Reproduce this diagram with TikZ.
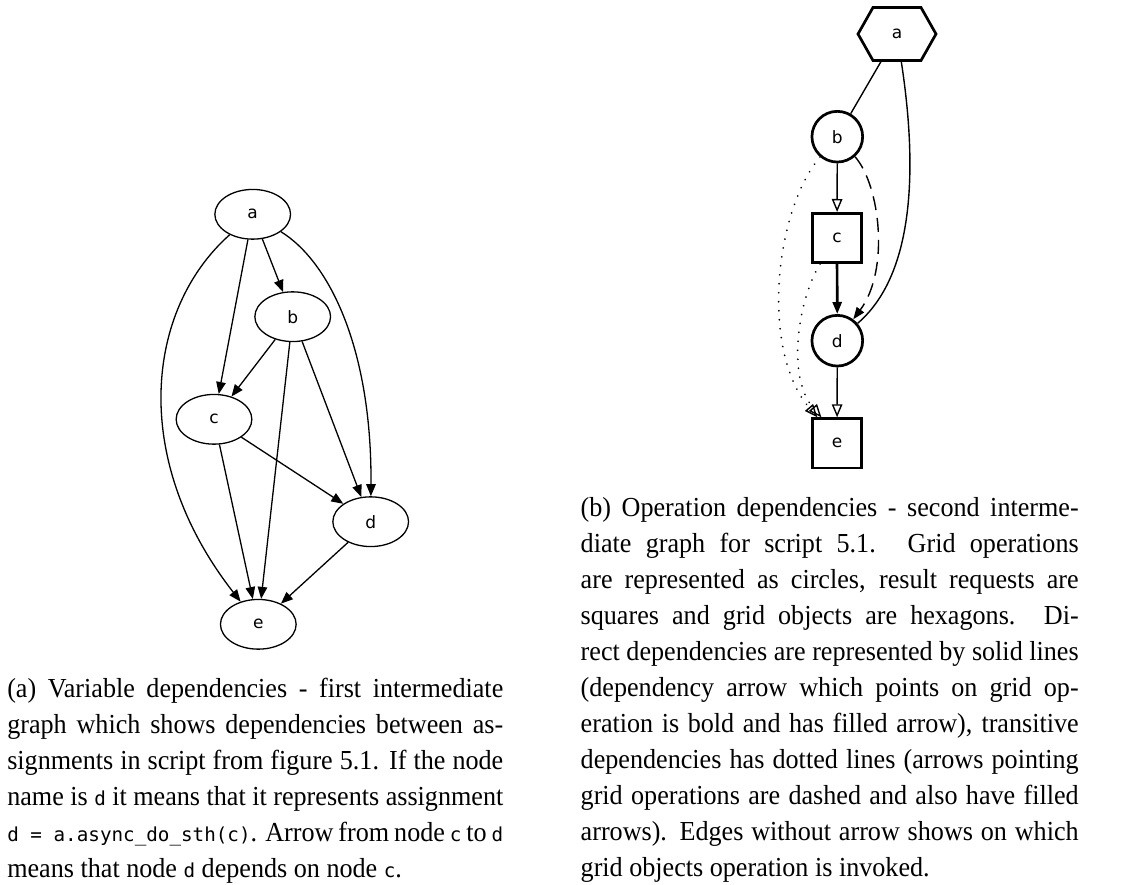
\documentclass[tikz,border=0pt]{standalone}
\usepackage{fontspec}
\setmainfont[FakeStretch=0.95]{Liberation Serif}
\setmonofont[Scale=0.70]{DejaVu Sans Mono}
\newfontfamily\graphfont{DejaVu Sans}
\usetikzlibrary{arrows.meta,calc,shapes.geometric}

% one justified caption line of a given width (natural, stretchable spaces)
\newcommand{\fullline}[2]{\makebox[#1][s]{\spaceskip=0pt\xspaceskip=0pt #2}}

\tikzset{
  labelfont/.style={font=\graphfont\fontsize{17}{20}\selectfont},
  var/.style={ellipse, draw, line width=1.3pt, minimum width=75.7pt,
              minimum height=49.7pt, inner sep=0pt, labelfont},
  dep/.style={line width=1.3pt, -{Triangle[length=12pt,width=9.5pt]}},
  gop/.style={circle, draw, line width=2.7pt, minimum size=50.7pt,
              inner sep=0pt, labelfont},
  greq/.style={rectangle, draw, line width=2.7pt, minimum size=49.3pt,
               inner sep=0pt, labelfont},
  gobj/.style={rectangle, minimum width=75.3pt, minimum height=50.3pt,
               inner sep=0pt, outer sep=1.35pt, labelfont},
  oplink/.style={line width=1.4pt},
  openhead/.style={-{Triangle[open,length=13pt,width=10.5pt,line width=1.4pt]}},
  fillhead/.style={-{Triangle[length=12pt,width=9pt]}},
  transdep/.style={line width=1.9pt, line cap=round, dash pattern=on 0.01pt off 9pt, openhead},
  captxt/.style={inner sep=0pt, outer sep=0pt, align=left,
                 font=\fontsize{27.5}{36}\selectfont},
}

\begin{document}
\begin{tikzpicture}[x=1pt,y=-1pt]
\useasboundingbox (0,0) rectangle (1146,885);

% ---------- (a) variable dependencies ----------
\node[var] (a) at (252.7,214.3) {a};
\node[var] (b) at (292.7,316.7) {b};
\node[var] (c) at (214.0,419.3) {c};
\node[var] (d) at (370.7,521.7) {d};
\node[var] (e) at (258.3,624.3) {e};

\draw[dep] (a) -- (b);
\draw[dep] (a) -- (c);
\draw[dep] (a) .. controls (330,262) and (372,350) .. (d);
\draw[dep] (a) .. controls (145,310) and (130,460) .. (e);
\draw[dep] (b) -- (c);
\draw[dep] (b) -- (d);
\draw[dep] (b) -- (e);
\draw[dep] (c) -- (d);
\draw[dep] (c) -- (e);
\draw[dep] (d) -- (e);

% ---------- (b) operation dependencies ----------
\node[gobj] (ga) at (897,34) {a};
\draw[line width=2.7pt, line join=miter]
  (ga.west) -- ($(ga.north west)+(15,0)$) -- ($(ga.north east)+(-15,0)$)
  -- (ga.east) -- ($(ga.south east)+(-15,0)$) -- ($(ga.south west)+(15,0)$) -- cycle;
\node[gop]  (gb) at (837.3,136.7) {b};
\node[greq] (gc) at (837.0,238.0) {c};
\node[gop]  (gd) at (837.3,340.7) {d};
\node[greq] (ge) at (837.0,443.3) {e};

\draw[oplink] (ga) -- (gb);
\draw[oplink] (ga) .. controls (915,150) and (920,270) .. (gd);
\draw[oplink, openhead] (gb) -- (gc);
\draw[line width=2.7pt, fillhead] (gc) -- (gd);
\draw[oplink, dash pattern=on 14pt off 8pt, fillhead]
  (gb) .. controls (880,185) and (890,270) .. (gd);
\draw[oplink, openhead] (gd) -- (ge);
\draw[transdep] (gb) .. controls (775,210) and (760,350) .. (ge.127);
\draw[transdep] (gc) .. controls (800,295) and (785,375) .. (ge.121);

% ---------- captions ----------
\node[captxt, anchor=base west, text width=496pt] (capa) at (7.3,697) {%
\fullline{496pt}{(a) Variable dependencies - first intermediate}\\
\fullline{496pt}{graph which shows dependencies between as-}\\
\fullline{496pt}{signments in script from figure 5.1. If the node}\\
\fullline{496pt}{name is \texttt{d} it means that it represents assignment}\\
\fullline{496pt}{\texttt{d = a.async\_do\_sth(c)}. Arrow from node \texttt{c} to \texttt{d}}\\
{\spaceskip=0pt\xspaceskip=0pt means that node \texttt{d} depends on node \texttt{c}.}};

\node[captxt, anchor=base west, text width=498pt] (capb) at (580.7,516.7) {%
\fullline{498pt}{(b) Operation dependencies - second interme-}\\
\fullline{498pt}{diate graph for script 5.1.  Grid operations}\\
\fullline{498pt}{are represented as circles, result requests are}\\
\fullline{498pt}{squares and grid objects are hexagons.  Di-}\\
\fullline{498pt}{rect dependencies are represented by solid lines}\\
\fullline{498pt}{(dependency arrow which points on grid op-}\\
\fullline{498pt}{eration is bold and has filled arrow), transitive}\\
\fullline{498pt}{dependencies has dotted lines (arrows pointing}\\
\fullline{498pt}{grid operations are dashed and also have filled}\\
\fullline{498pt}{arrows). Edges without arrow shows on which}\\
{\spaceskip=0pt\xspaceskip=0pt grid objects operation is invoked.}};
\end{tikzpicture}
\end{document}
